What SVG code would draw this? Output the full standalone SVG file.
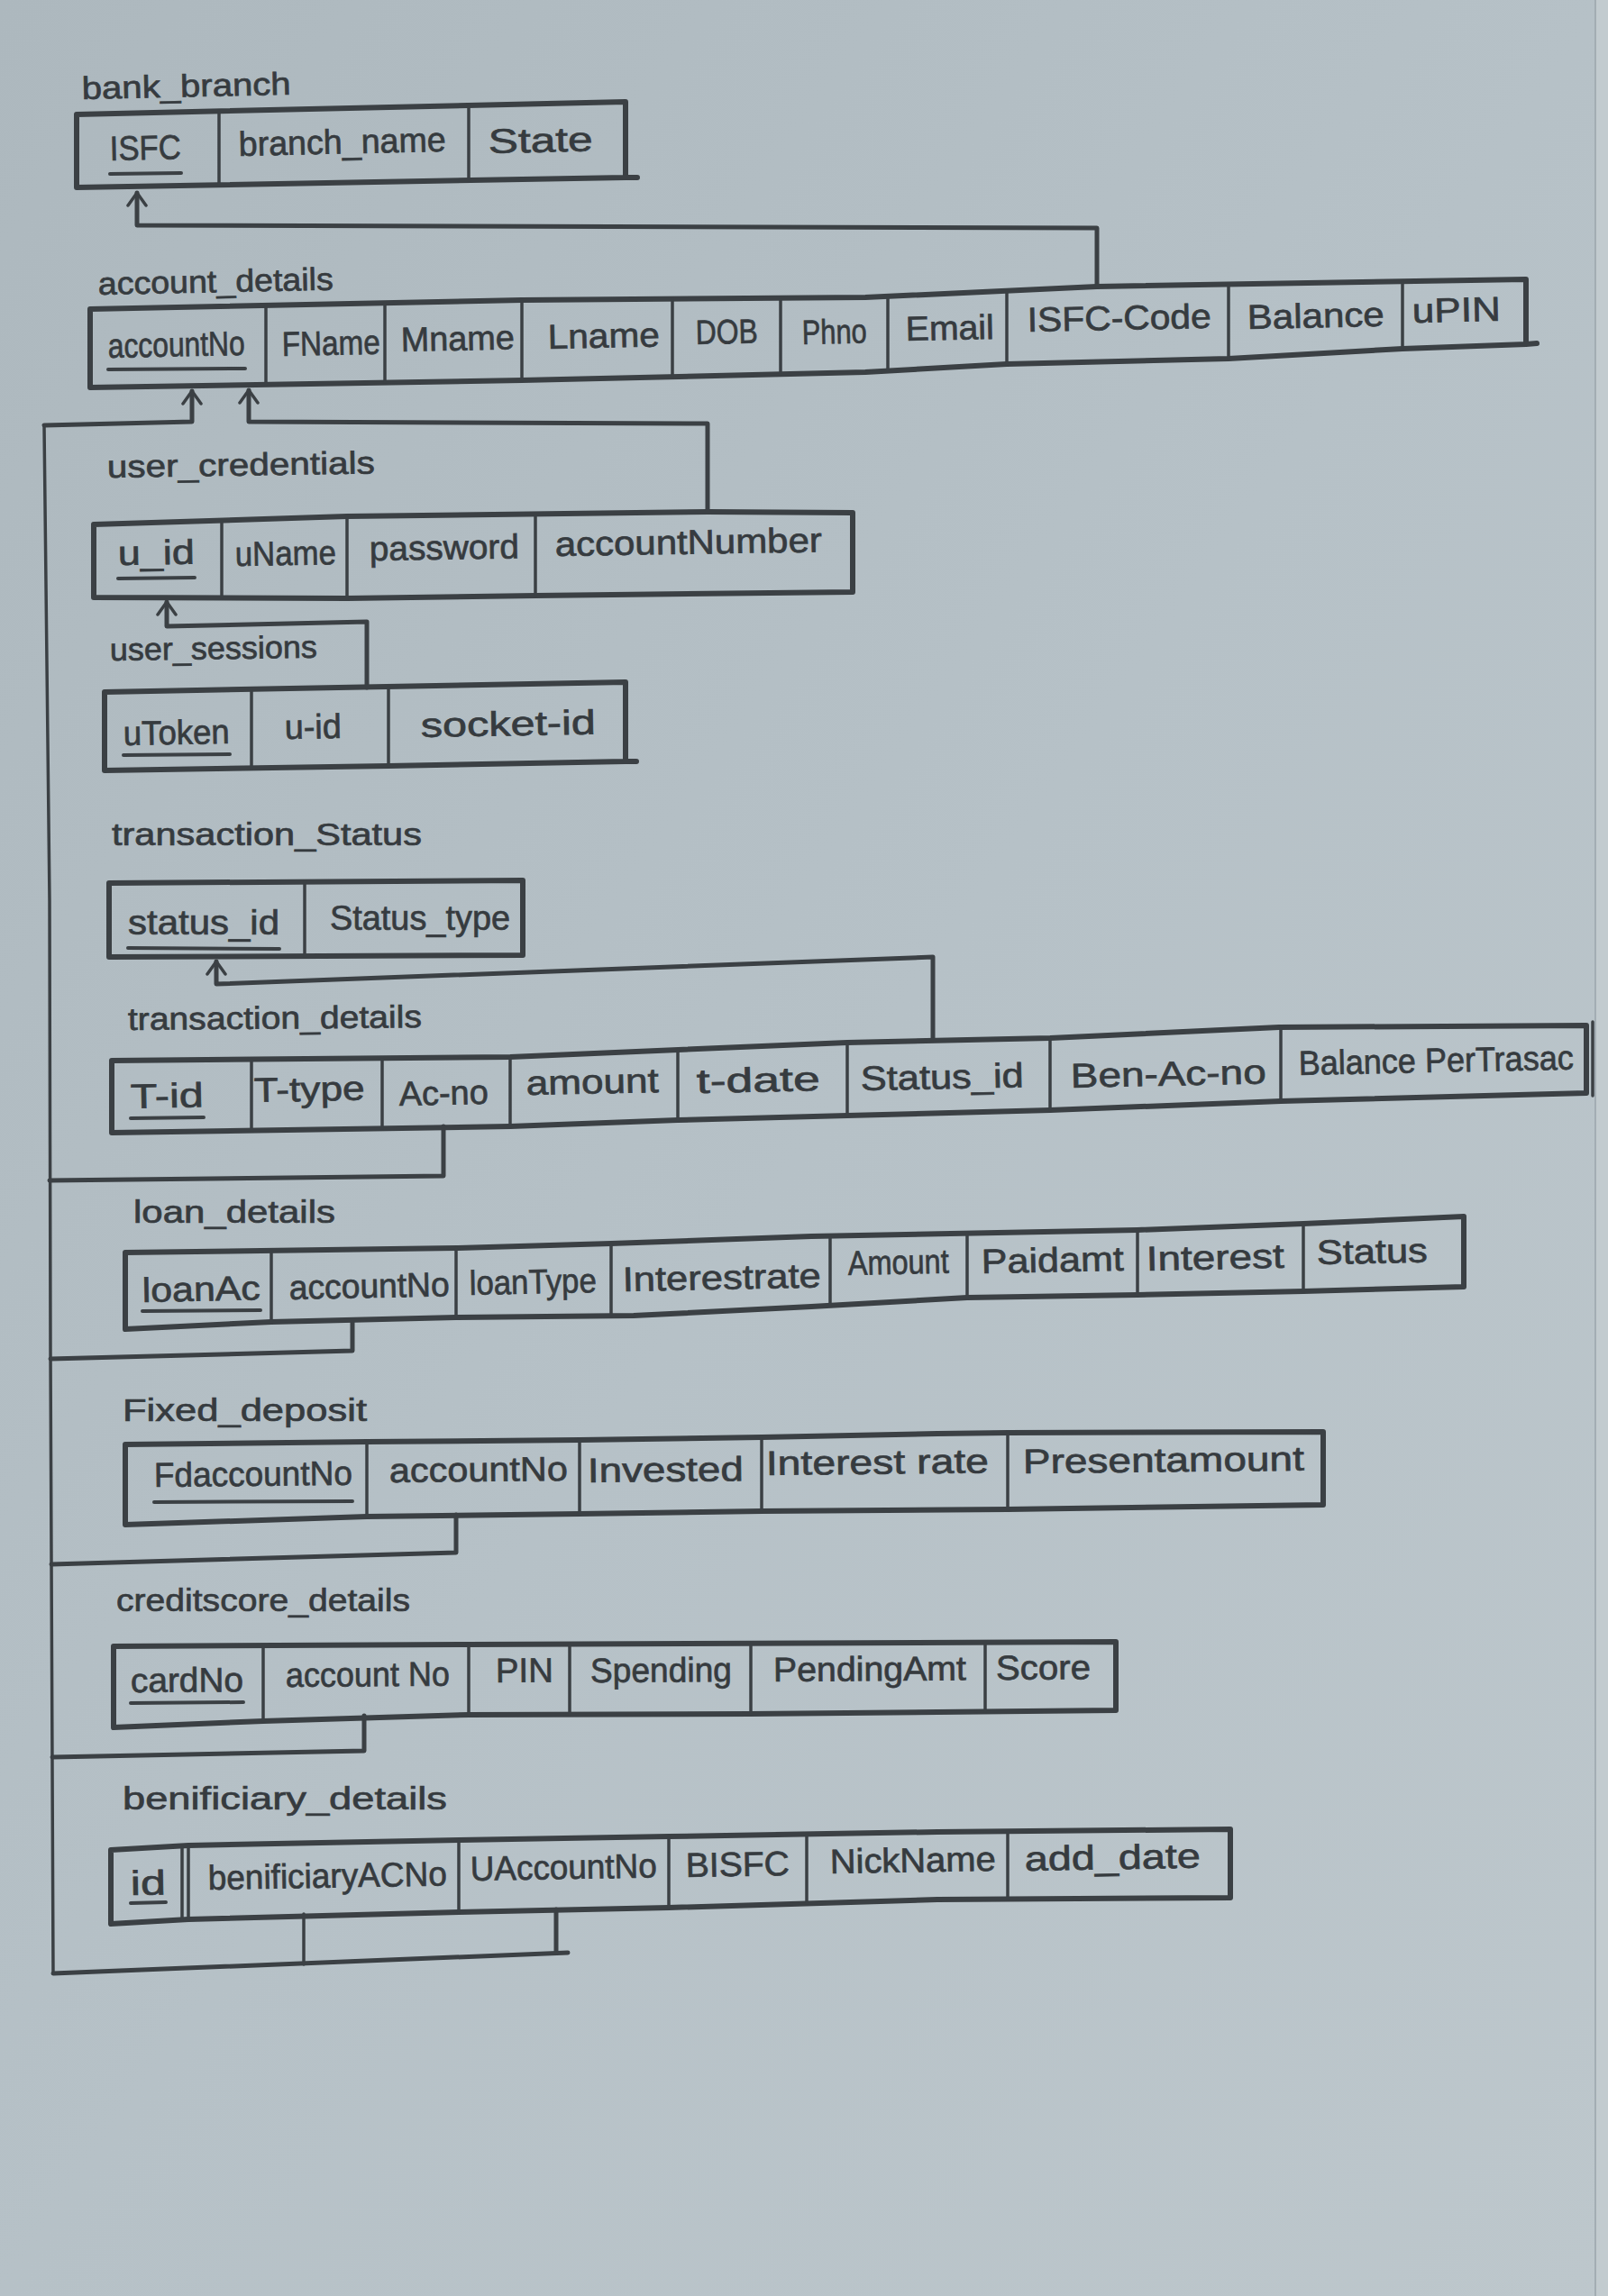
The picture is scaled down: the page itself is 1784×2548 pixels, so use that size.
<svg xmlns="http://www.w3.org/2000/svg" width="1784" height="2548" viewBox="0 0 1784 2548">
<defs>
<linearGradient id="paper" x1="0" y1="0" x2="1" y2="1">
<stop offset="0" stop-color="#adb8be"/>
<stop offset="0.5" stop-color="#b6c1c7"/>
<stop offset="1" stop-color="#bdc7cc"/>
</linearGradient>
<marker id="arr" viewBox="-16 -12 18 24" refX="0" refY="0" markerWidth="18" markerHeight="24" markerUnits="userSpaceOnUse" orient="auto">
<path d="M-14,-10 L0,0 L-14,10" fill="none" stroke="#3b4044" stroke-width="3.5" stroke-linecap="round"/>
</marker>
<style>
.box{fill:none;stroke:#3b4044;stroke-width:6;stroke-linejoin:round;stroke-linecap:round}
.dv{fill:none;stroke:#3b4044;stroke-width:3.5;stroke-linecap:round}
.ul{fill:none;stroke:#3b4044;stroke-width:4;stroke-linecap:round}
.cn{fill:none;stroke:#3b4044;stroke-width:5;stroke-linejoin:round;stroke-linecap:round}
.tr{fill:none;stroke:#3b4044;stroke-width:3.5;stroke-linejoin:round;stroke-linecap:round}
text{font-family:"Liberation Sans","DejaVu Sans",sans-serif;fill:#363b3f;stroke:#363b3f;stroke-width:0.7}
.lb{font-size:35px}
.c{font-size:38px}
</style>
</defs>
<rect x="0" y="0" width="1784" height="2548" fill="url(#paper)"/>
<rect x="1770" y="0" width="14" height="2548" fill="#c2cbcf"/>
<line x1="1770" y1="0" x2="1770" y2="2548" stroke="#9aa5ab" stroke-width="1.5"/>

<g id="connectors">
<path class="cn" d="M1217,318 L1217,253 L152,250 L152,214" marker-end="url(#arr)"/>
<path class="tr" d="M49,472 L55,1000 L56,1500 L59,2190"/>
<path class="cn" d="M49,472 L213,468 L213,434" marker-end="url(#arr)"/>
<path class="cn" d="M785,568 L785,470 L276,468 L276,433" marker-end="url(#arr)"/>
<path class="cn" d="M407,763 L407,690 L185,695 L185,668" marker-end="url(#arr)"/>
<path class="cn" d="M1035,1153 L1035,1062 L240,1092 L240,1067" marker-end="url(#arr)"/>
<path class="cn" d="M492,1250 L492,1305 L55,1310"/>
<path class="cn" d="M391,1465 L391,1499 L56,1508"/>
<path class="cn" d="M506,1681 L506,1723 L57,1736"/>
<path class="cn" d="M404,1904 L404,1943 L58,1950"/>
<path class="tr" d="M337,2124 L337,2180"/>
<path class="cn" d="M617,2119 L617,2167"/>
<path class="cn" d="M59,2190 L630,2167"/>
</g>

<g id="bank_branch">
<text class="lb" x="91" y="110" textLength="232" lengthAdjust="spacingAndGlyphs" transform="rotate(-1.3 91 110)">bank_branch</text>
<path class="box" d="M85,127 L694,113 L694,197 L85,208 Z M694,197 L707,197"/>
<path class="dv" d="M243,123 L243,205 M520,117 L520,200"/>
<text class="c" x="122" y="178" textLength="79" lengthAdjust="spacingAndGlyphs" transform="rotate(-1.3 122 178)">ISFC</text>
<path class="ul" d="M122,193 L201,192"/>
<text class="c" x="265" y="173" textLength="230" lengthAdjust="spacingAndGlyphs" transform="rotate(-1.3 265 173)">branch_name</text>
<text class="c" x="542" y="170" textLength="116" lengthAdjust="spacingAndGlyphs" transform="rotate(-1.3 542 170)">State</text>
</g>

<g id="account_details">
<text class="lb" x="109" y="327" textLength="261" lengthAdjust="spacingAndGlyphs" transform="rotate(-1.2 109 327)">account_details</text>
<path class="box" d="M100,343 L579,333 L960,330 L1217,318 L1693,310 L1693,382 L1556,387 L1363,398 L1117,404 L960,413 L579,422 L100,430 Z M1693,382 L1705,381"/>
<path class="dv" d="M295,339 L295,427 M427,336 L427,424 M579,333 L579,422 M746,332 L746,418 M866,331 L866,415 M985,329 L985,412 M1117,323 L1117,404 M1363,316 L1363,398 M1556,312 L1556,387"/>
<text class="c" x="120" y="397" textLength="152" lengthAdjust="spacingAndGlyphs" transform="rotate(-1.2 120 397)">accountNo</text>
<path class="ul" d="M120,410 L272,409"/>
<text class="c" x="313" y="395" textLength="109" lengthAdjust="spacingAndGlyphs" transform="rotate(-1.2 313 395)">FName</text>
<text class="c" x="445" y="390" textLength="126" lengthAdjust="spacingAndGlyphs" transform="rotate(-1.2 445 390)">Mname</text>
<text class="c" x="608" y="387" textLength="124" lengthAdjust="spacingAndGlyphs" transform="rotate(-1.2 608 387)">Lname</text>
<text class="c" x="772" y="382" textLength="69" lengthAdjust="spacingAndGlyphs" transform="rotate(-1.2 772 382)">DOB</text>
<text class="c" x="890" y="382" textLength="72" lengthAdjust="spacingAndGlyphs" transform="rotate(-1.2 890 382)">Phno</text>
<text class="c" x="1005" y="378" textLength="98" lengthAdjust="spacingAndGlyphs" transform="rotate(-1.2 1005 378)">Email</text>
<text class="c" x="1140" y="368" textLength="204" lengthAdjust="spacingAndGlyphs" transform="rotate(-1.2 1140 368)">ISFC-Code</text>
<text class="c" x="1384" y="365" textLength="152" lengthAdjust="spacingAndGlyphs" transform="rotate(-1.2 1384 365)">Balance</text>
<text class="c" x="1567" y="358" textLength="98" lengthAdjust="spacingAndGlyphs" transform="rotate(-1.2 1567 358)">uPIN</text>
</g>

<g id="user_credentials">
<text class="lb" x="119" y="530" textLength="297" lengthAdjust="spacingAndGlyphs" transform="rotate(-0.9 119 530)">user_credentials</text>
<path class="box" d="M104,582 L385,573 L785,568 L946,569 L946,657 L594,661 L385,664 L104,663 Z"/>
<path class="dv" d="M246,578 L246,663 M385,573 L385,664 M594,571 L594,661"/>
<text class="c" x="131" y="627" textLength="85" lengthAdjust="spacingAndGlyphs" transform="rotate(-0.9 131 627)">u_id</text>
<path class="ul" d="M131,642 L216,641"/>
<text class="c" x="261" y="628" textLength="112" lengthAdjust="spacingAndGlyphs" transform="rotate(-0.9 261 628)">uName</text>
<text class="c" x="410" y="622" textLength="166" lengthAdjust="spacingAndGlyphs" transform="rotate(-0.9 410 622)">password</text>
<text class="c" x="616" y="617" textLength="296" lengthAdjust="spacingAndGlyphs" transform="rotate(-0.9 616 617)">accountNumber</text>
</g>

<g id="user_sessions">
<text class="lb" x="122" y="733" textLength="230" lengthAdjust="spacingAndGlyphs" transform="rotate(-0.8 122 733)">user_sessions</text>
<path class="box" d="M116,768 L694,757 L694,845 L431,850 L116,855 Z M694,845 L706,845"/>
<path class="dv" d="M279,765 L279,853 M431,762 L431,850"/>
<text class="c" x="137" y="827" textLength="118" lengthAdjust="spacingAndGlyphs" transform="rotate(-1 137 827)">uToken</text>
<path class="ul" d="M137,838 L255,837"/>
<text class="c" x="316" y="820" textLength="63" lengthAdjust="spacingAndGlyphs" transform="rotate(-1 316 820)">u-id</text>
<text class="c" x="467" y="818" textLength="194" lengthAdjust="spacingAndGlyphs" transform="rotate(-1 467 818)">socket-id</text>
</g>

<g id="transaction_status">
<text class="lb" x="124" y="938" textLength="344" lengthAdjust="spacingAndGlyphs">transaction_Status</text>
<path class="box" d="M121,980 L580,977 L580,1060 L121,1062 Z"/>
<path class="dv" d="M338,979 L338,1061"/>
<text class="c" x="142" y="1037" textLength="168" lengthAdjust="spacingAndGlyphs">status_id</text>
<path class="ul" d="M142,1052 L310,1053"/>
<text class="c" x="366" y="1032" textLength="200" lengthAdjust="spacingAndGlyphs">Status_type</text>
</g>

<g id="transaction_details">
<text class="lb" x="142" y="1143" textLength="326" lengthAdjust="spacingAndGlyphs" transform="rotate(-0.5 142 1143)">transaction_details</text>
<path class="box" d="M124,1177 L566,1173 L940,1157 L1165,1152 L1419,1140 L1760,1138 L1760,1213 L1421,1222 L1165,1232 L940,1238 L752,1243 L566,1250 L124,1257 Z"/>
<path class="dv" d="M279,1176 L279,1255 M424,1174 L424,1252 M566,1173 L566,1250 M752,1165 L752,1243 M940,1157 L940,1238 M1165,1152 L1165,1232 M1421,1140 L1421,1222"/>
<path class="dv" d="M1767,1134 L1767,1216"/>
<text class="c" x="145" y="1230" textLength="81" lengthAdjust="spacingAndGlyphs" transform="rotate(-1.2 145 1230)">T-id</text>
<path class="ul" d="M145,1241 L226,1240"/>
<text class="c" x="282" y="1223" textLength="123" lengthAdjust="spacingAndGlyphs" transform="rotate(-1.2 282 1223)">T-type</text>
<text class="c" x="443" y="1227" textLength="99" lengthAdjust="spacingAndGlyphs" transform="rotate(-1.2 443 1227)">Ac-no</text>
<text class="c" x="584" y="1215" textLength="147" lengthAdjust="spacingAndGlyphs" transform="rotate(-1.2 584 1215)">amount</text>
<text class="c" x="773" y="1213" textLength="137" lengthAdjust="spacingAndGlyphs" transform="rotate(-1.2 773 1213)">t-date</text>
<text class="c" x="955" y="1210" textLength="181" lengthAdjust="spacingAndGlyphs" transform="rotate(-1.2 955 1210)">Status_id</text>
<text class="c" x="1188" y="1207" textLength="217" lengthAdjust="spacingAndGlyphs" transform="rotate(-1.2 1188 1207)">Ben-Ac-no</text>
<text class="c" x="1441" y="1193" textLength="305" lengthAdjust="spacingAndGlyphs" transform="rotate(-1.2 1441 1193)">Balance PerTrasac</text>
</g>

<g id="loan_details">
<text class="lb" x="148" y="1357" textLength="224" lengthAdjust="spacingAndGlyphs">loan_details</text>
<path class="box" d="M139,1390 L506,1385 L678,1380 L900,1372 L1262,1365 L1446,1358 L1624,1350 L1624,1428 L1446,1433 L1262,1437 L1073,1440 L900,1450 L703,1460 L506,1462 L301,1467 L139,1475 Z"/>
<path class="dv" d="M301,1388 L301,1467 M506,1385 L506,1462 M678,1380 L678,1460 M921,1372 L921,1449 M1073,1369 L1073,1440 M1262,1365 L1262,1437 M1446,1358 L1446,1433"/>
<text class="c" x="158" y="1445" textLength="131" lengthAdjust="spacingAndGlyphs" transform="rotate(-1.2 158 1445)">loanAc</text>
<path class="ul" d="M158,1455 L289,1454"/>
<text class="c" x="321" y="1442" textLength="178" lengthAdjust="spacingAndGlyphs" transform="rotate(-1.2 321 1442)">accountNo</text>
<text class="c" x="521" y="1437" textLength="141" lengthAdjust="spacingAndGlyphs" transform="rotate(-1.2 521 1437)">loanType</text>
<text class="c" x="691" y="1433" textLength="220" lengthAdjust="spacingAndGlyphs" transform="rotate(-1.2 691 1433)">Interestrate</text>
<text class="c" x="941" y="1415" textLength="112" lengthAdjust="spacingAndGlyphs" transform="rotate(-1.2 941 1415)">Amount</text>
<text class="c" x="1089" y="1413" textLength="158" lengthAdjust="spacingAndGlyphs" transform="rotate(-1.2 1089 1413)">Paidamt</text>
<text class="c" x="1272" y="1410" textLength="153" lengthAdjust="spacingAndGlyphs" transform="rotate(-1.2 1272 1410)">Interest</text>
<text class="c" x="1461" y="1403" textLength="123" lengthAdjust="spacingAndGlyphs" transform="rotate(-1.2 1461 1403)">Status</text>
</g>

<g id="fixed_deposit">
<text class="lb" x="136" y="1577" textLength="271" lengthAdjust="spacingAndGlyphs">Fixed_deposit</text>
<path class="box" d="M139,1603 L407,1600 L643,1598 L845,1595 L1040,1591 L1118,1590 L1468,1589 L1468,1670 L1118,1675 L845,1677 L643,1680 L407,1683 L139,1692 Z"/>
<path class="dv" d="M407,1600 L407,1683 M643,1598 L643,1680 M845,1595 L845,1677 M1118,1590 L1118,1675"/>
<text class="c" x="171" y="1650" textLength="220" lengthAdjust="spacingAndGlyphs" transform="rotate(-0.6 171 1650)">FdaccountNo</text>
<path class="ul" d="M171,1667 L391,1666"/>
<text class="c" x="432" y="1645" textLength="198" lengthAdjust="spacingAndGlyphs" transform="rotate(-0.6 432 1645)">accountNo</text>
<text class="c" x="652" y="1645" textLength="173" lengthAdjust="spacingAndGlyphs" transform="rotate(-0.6 652 1645)">Invested</text>
<text class="c" x="850" y="1637" textLength="247" lengthAdjust="spacingAndGlyphs" transform="rotate(-0.6 850 1637)">Interest rate</text>
<text class="c" x="1135" y="1635" textLength="312" lengthAdjust="spacingAndGlyphs" transform="rotate(-0.6 1135 1635)">Presentamount</text>
</g>

<g id="creditscore_details">
<text class="lb" x="129" y="1788" textLength="326" lengthAdjust="spacingAndGlyphs">creditscore_details</text>
<path class="box" d="M126,1827 L520,1825 L1238,1822 L1238,1898 L833,1902 L520,1903 L292,1910 L126,1917 Z"/>
<path class="dv" d="M292,1826 L292,1910 M520,1825 L520,1903 M632,1825 L632,1903 M833,1824 L833,1902 M1093,1823 L1093,1900"/>
<text class="c" x="145" y="1878" textLength="125" lengthAdjust="spacingAndGlyphs" transform="rotate(-0.4 145 1878)">cardNo</text>
<path class="ul" d="M145,1890 L270,1889"/>
<text class="c" x="317" y="1872" textLength="182" lengthAdjust="spacingAndGlyphs" transform="rotate(-0.4 317 1872)">account No</text>
<text class="c" x="550" y="1867" textLength="64" lengthAdjust="spacingAndGlyphs" transform="rotate(-0.4 550 1867)">PIN</text>
<text class="c" x="655" y="1867" textLength="157" lengthAdjust="spacingAndGlyphs" transform="rotate(-0.4 655 1867)">Spending</text>
<text class="c" x="858" y="1866" textLength="214" lengthAdjust="spacingAndGlyphs" transform="rotate(-0.4 858 1866)">PendingAmt</text>
<text class="c" x="1105" y="1864" textLength="105" lengthAdjust="spacingAndGlyphs" transform="rotate(-0.4 1105 1864)">Score</text>
</g>

<g id="benificiary_details">
<text class="lb" x="136" y="2008" textLength="360" lengthAdjust="spacingAndGlyphs">benificiary_details</text>
<path class="box" d="M123,2053 L209,2048 L509,2042 L742,2038 L1040,2033 L1365,2030 L1365,2106 L1040,2108 L742,2117 L509,2122 L209,2130 L123,2135 Z"/>
<path class="dv" d="M202,2049 L202,2131 M209,2048 L209,2130 M509,2042 L509,2122 M742,2038 L742,2117 M895,2035 L895,2112 M1118,2032 L1118,2107"/>
<text class="c" x="145" y="2103" textLength="39" lengthAdjust="spacingAndGlyphs" transform="rotate(-1 145 2103)">id</text>
<path class="ul" d="M145,2112 L184,2111"/>
<text class="c" x="231" y="2097" textLength="265" lengthAdjust="spacingAndGlyphs" transform="rotate(-1 231 2097)">benificiaryACNo</text>
<text class="c" x="522" y="2087" textLength="207" lengthAdjust="spacingAndGlyphs" transform="rotate(-1 522 2087)">UAccountNo</text>
<text class="c" x="761" y="2083" textLength="115" lengthAdjust="spacingAndGlyphs" transform="rotate(-1 761 2083)">BISFC</text>
<text class="c" x="921" y="2079" textLength="184" lengthAdjust="spacingAndGlyphs" transform="rotate(-1 921 2079)">NickName</text>
<text class="c" x="1137" y="2076" textLength="195" lengthAdjust="spacingAndGlyphs" transform="rotate(-1 1137 2076)">add_date</text>
</g>
</svg>
